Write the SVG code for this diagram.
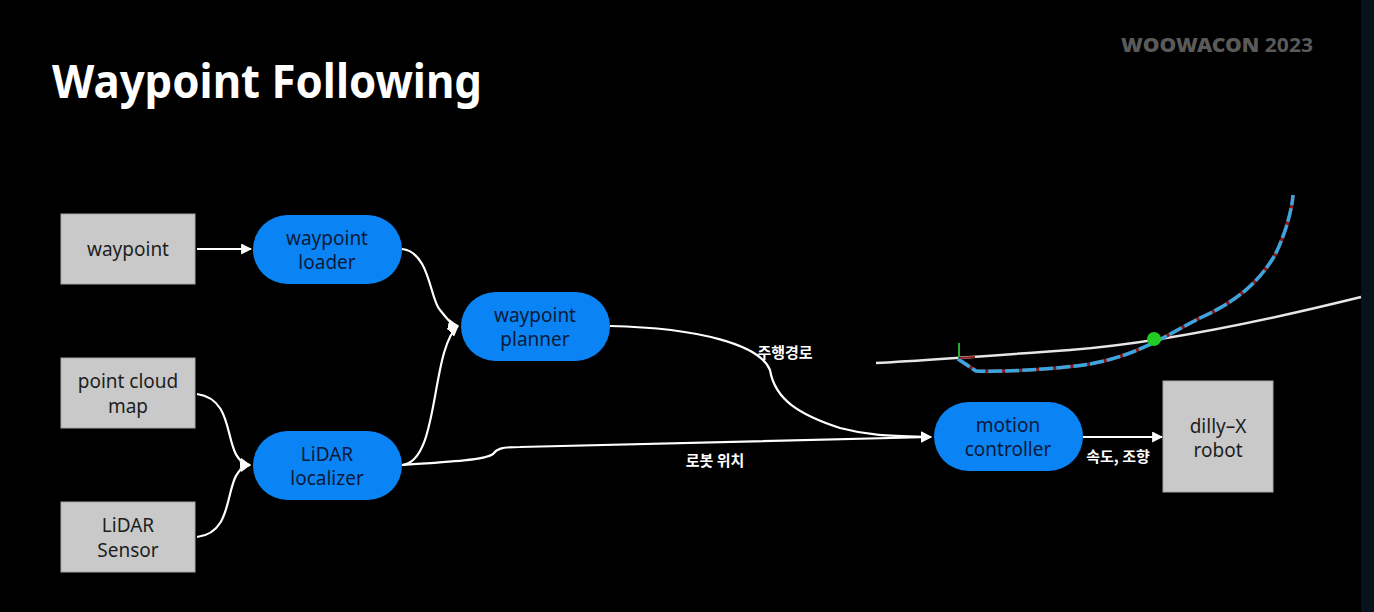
<svg xmlns="http://www.w3.org/2000/svg" width="1374" height="612" viewBox="0 0 1374 612">
<style>
.box{fill:#c9c9c9;stroke:#a8a8a8;stroke-width:1}
.pill{fill:#0a84f5}
.bt{font-family:"Noto Sans","Liberation Sans",sans-serif;font-size:19px;fill:#1e1e1e;text-anchor:middle}
.pt{font-family:"Noto Sans","Liberation Sans",sans-serif;font-size:19px;fill:#0a1a3a;text-anchor:middle}
.lbl{font-family:"Noto Sans CJK KR",sans-serif;font-size:15px;font-weight:bold;fill:#ffffff;text-anchor:middle}
.con{fill:none;stroke:#ffffff;stroke-width:2.2}
</style>
<defs>
<marker id="ah" viewBox="0 0 10 10" refX="9" refY="5" markerWidth="5" markerHeight="5" orient="auto" markerUnits="strokeWidth">
<path d="M0,0 L10,5 L0,10 Z" fill="#ffffff"/>
</marker>
</defs>
<rect x="0" y="0" width="1374" height="612" fill="#000000"/>
<rect x="1361" y="0" width="13" height="612" fill="#06121c"/>
<text x="52" y="98" font-family="Noto Sans, Liberation Sans, sans-serif" font-size="46" font-weight="bold" fill="#ffffff" textLength="430" lengthAdjust="spacingAndGlyphs">Waypoint Following</text>
<text x="1121" y="52" font-family="Noto Sans, Liberation Sans, sans-serif" font-size="19" fill="#5a5a5a" textLength="192" lengthAdjust="spacingAndGlyphs"><tspan font-weight="900">WOOWACON</tspan> <tspan font-weight="bold">2023</tspan></text>

<g id="trajectory">
<path d="M876,363 C930,360 1000,355 1070,350 C1160,343 1260,322 1361,297" fill="none" stroke="#e6e6e6" stroke-width="2.5"/>
<path d="M958,359 L976,371 C1000,372 1050,370 1090,364 C1140,355 1170,333 1200,318 C1240,300 1260,280 1275,255 C1285,235 1292,210 1293,195" fill="none" stroke="#8b1a1a" stroke-width="3.5"/>
<path d="M958,359 L976,371 C1000,372 1050,370 1090,364 C1140,355 1170,333 1200,318 C1240,300 1260,280 1275,255 C1285,235 1292,210 1293,195" fill="none" stroke="#3aa6e0" stroke-width="3.5" stroke-dasharray="14,3"/>
<line x1="959" y1="343" x2="959" y2="358" stroke="#2eaa2e" stroke-width="2"/>
<line x1="959" y1="358" x2="975" y2="357" stroke="#8b1a1a" stroke-width="2"/>
<circle cx="1154" cy="339" r="7" fill="#22cc22"/>
</g>

<g id="connectors">
<line class="con" x1="197" y1="249" x2="251" y2="249" marker-end="url(#ah)"/>
<path class="con" d="M402,249 C430,252 430,300 440,310 C448,320 452,325 458,326" marker-end="url(#ah)"/>
<path class="con" d="M402,465 C440,462 430,350 458,326" marker-end="url(#ah)"/>
<path class="con" d="M197,394 C240,400 220,460 250,465" marker-end="url(#ah)"/>
<path class="con" d="M197,537 C240,532 220,470 250,465" marker-end="url(#ah)"/>
<path class="con" d="M402,465 C450,462 485,460 493,454 C497,449 500,447 520,447 L931,437" marker-end="url(#ah)"/>
<path class="con" d="M610,326 C700,328 760,345 770,370 C775,400 800,415 840,428 C870,436 890,436 931,437" marker-end="url(#ah)"/>
<line class="con" x1="1083" y1="437" x2="1162" y2="437" marker-end="url(#ah)"/>
<text class="lbl" x="785" y="358">주행경로</text>
<text class="lbl" x="715" y="466">로봇 위치</text>
<text class="lbl" x="1118" y="462">속도, 조향</text>
</g>

<g id="waypoint">
<rect class="box" x="61" y="214" width="134" height="70"/>
<text class="bt" x="128" y="256">waypoint</text>
</g>
<g id="point_cloud_map">
<rect class="box" x="61" y="358" width="134" height="70"/>
<text class="bt" x="128" y="388">point cloud</text>
<text class="bt" x="128" y="413">map</text>
</g>
<g id="lidar_sensor">
<rect class="box" x="61" y="502" width="134" height="70"/>
<text class="bt" x="128" y="532">LiDAR</text>
<text class="bt" x="128" y="557">Sensor</text>
</g>
<g id="waypoint_loader">
<rect class="pill" x="253" y="215" width="149" height="69" rx="34.5"/>
<text class="pt" x="327" y="245">waypoint</text>
<text class="pt" x="327" y="269">loader</text>
</g>
<g id="lidar_localizer">
<rect class="pill" x="253" y="431" width="149" height="69" rx="34.5"/>
<text class="pt" x="327" y="461">LiDAR</text>
<text class="pt" x="327" y="485">localizer</text>
</g>
<g id="waypoint_planner">
<rect class="pill" x="461" y="292" width="149" height="69" rx="34.5"/>
<text class="pt" x="535" y="322">waypoint</text>
<text class="pt" x="535" y="346">planner</text>
</g>
<g id="motion_controller">
<rect class="pill" x="934" y="402" width="149" height="69" rx="34.5"/>
<text class="pt" x="1008" y="432">motion</text>
<text class="pt" x="1008" y="456">controller</text>
</g>
<g id="dilly_x_robot">
<rect class="box" x="1163" y="381" width="110" height="111"/>
<text class="bt" x="1218" y="433">dilly–X</text>
<text class="bt" x="1218" y="457">robot</text>
</g>
</svg>
